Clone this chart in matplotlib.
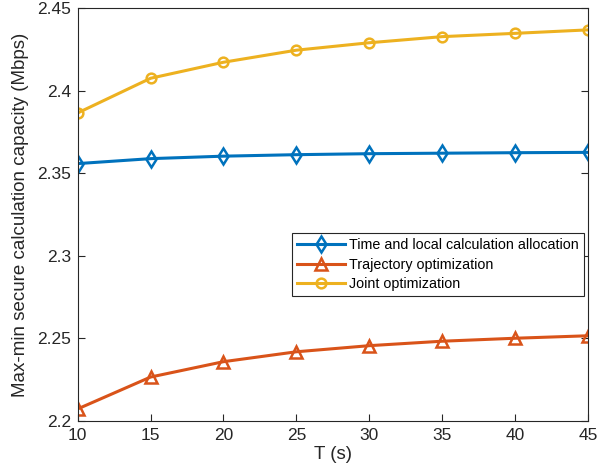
import matplotlib
matplotlib.use('Agg')
import matplotlib.pyplot as plt

plt.rcParams['font.family'] = ['Liberation Sans', 'DejaVu Sans']

T = [10, 15, 20, 25, 30, 35, 40, 45]
time_local = [2.3558, 2.3588, 2.3603, 2.3612, 2.3618, 2.3621, 2.3624, 2.3626]
trajectory = [2.2072, 2.2265, 2.2358, 2.2418, 2.2455, 2.2482, 2.2500, 2.2515]
joint = [2.3865, 2.4075, 2.4172, 2.4245, 2.4290, 2.4327, 2.4347, 2.4368]

labels = ['Time and local calculation allocation',
          'Trajectory optimization',
          'Joint optimization']
colors = ['#0072BD', '#D95319', '#EDB120']
markers = ['d', '^', 'o']

fig = plt.figure(figsize=(5.98, 4.76), dpi=100)
ax = fig.add_axes([0.130, 0.116, 0.853, 0.867])

for y, lab, c, m in zip([time_local, trajectory, joint], labels, colors, markers):
    ax.plot(T, y, color=c, lw=2.2, marker=m, markersize=8 if m != 'o' else 7,
            markerfacecolor='none', markeredgecolor=c, markeredgewidth=1.8,
            label=lab)

ax.set_xlim(10, 45)
ax.set_ylim(2.2, 2.45)
ax.set_xticks(T)
ax.set_yticks([2.2, 2.25, 2.3, 2.35, 2.4, 2.45])
ax.set_yticklabels(['2.2', '2.25', '2.3', '2.35', '2.4', '2.45'])
ax.tick_params(direction='in', labelsize=12.5, length=5, colors='#262626',
               top=False, right=True, pad=5)
for s in ax.spines.values():
    s.set_color('#262626')
    s.set_linewidth(0.8)

ax.set_xlabel('T (s)', fontsize=13.5, color='#262626', labelpad=2)
ax.set_ylabel('Max-min secure calculation capacity (Mbps)', fontsize=13.5,
              color='#262626', labelpad=6)

leg = ax.legend(loc='upper right', bbox_to_anchor=(0.992, 0.455), fontsize=10.3,
                fancybox=False, edgecolor='#262626', framealpha=1,
                handlelength=3.3, borderpad=0.35, labelspacing=0.4,
                handletextpad=0.3, borderaxespad=0)
leg.get_frame().set_linewidth(0.8)

fig.savefig('out.png', dpi=100)
